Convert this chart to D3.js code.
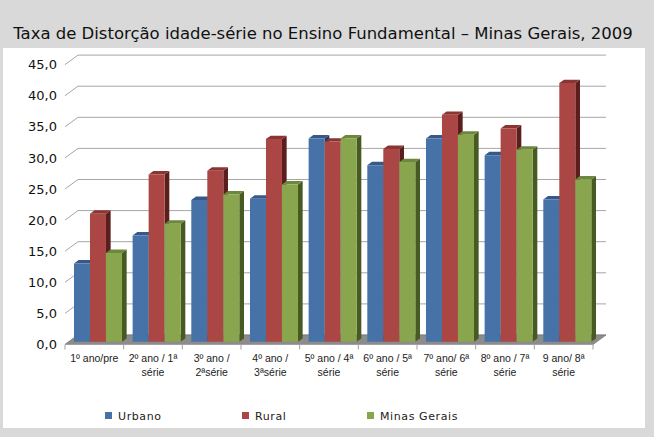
<!DOCTYPE html>
<html><head><meta charset="utf-8">
<script src="https://cdn.jsdelivr.net/npm/d3@7"></script>
<style>body{margin:0;background:#d9d9d9} svg{display:block}</style>
</head><body><svg id="c" width="654" height="437"></svg>
<script>
const title = "Taxa de Distorção idade-série no Ensino Fundamental – Minas Gerais, 2009";
const categories = [
  ["1º ano/pre"],
  ["2º ano / 1ª", "série"],
  ["3º ano /", "2ªsérie"],
  ["4º ano /", "3ªsérie"],
  ["5º ano / 4ª", "série"],
  ["6º ano / 5ª", "série"],
  ["7º ano/ 6ª", "série"],
  ["8º ano / 7ª", "série"],
  ["9 ano/ 8ª", "série"]
];
const seriesNames = ["Urbano", "Rural", "Minas Gerais"];
const urbano = [12.6, 17.1, 22.8, 23.0, 32.7, 28.4, 32.7, 30.0, 22.9];
const rural  = [20.6, 26.9, 27.5, 32.6, 32.2, 31.0, 36.5, 34.3, 41.6];
const minas  = [14.3, 19.0, 23.7, 25.3, 32.7, 28.9, 33.3, 30.9, 26.1];
const yTicks = [0, 5, 10, 15, 20, 25, 30, 35, 40, 45];

const seriesValues = [urbano, rural, minas];
const colors = {
  front: ["#4672a8", "#aa4744", "#89a54e"],
  top:   ["#37598a", "#8a3532", "#6d883c"],
  side:  ["#223c5e", "#5a1f1d", "#465a22"]
};

const svg = d3.select("#c");
// white panel
svg.append("rect").attr("x", 3).attr("y", 48).attr("width", 642).attr("height", 380).attr("fill", "#ffffff");

// title
const t = svg.append("text").attr("x", 323).attr("y", 39).attr("text-anchor", "middle")
  .attr("font-family", "DejaVu Sans, Verdana, sans-serif").attr("font-size", 16)
  .attr("fill", "#111").text(title);
const tl = t.node().getComputedTextLength();
t.attr("font-size", 16 * 620 / tl);

// geometry
const DX = 13, DY = -9.5;       // full depth offset of the floor
const F = 0.28, T = 0.36;       // bar front depth and thickness (fraction of floor depth)
const x = d3.scaleBand().domain(d3.range(categories.length)).range([65, 593]);
const xs = d3.scaleBand().domain(seriesNames).range([0, x.bandwidth()]).paddingOuter(0.333).paddingInner(0);
const y = d3.scaleLinear().domain([0, 45]).range([344.5, 344.5 - 45 * 6.22]);
const P = (px, v, d) => [px + d * DX, y(v) + d * DY];
const poly = pts => pts.map(p => p.join(",")).join(" ");

// gridlines (back wall + left wall diagonals)
const g = svg.append("g");
yTicks.forEach(v => {
  const a = P(x.range()[0], v, 0), b = P(x.range()[0], v, 1), c = P(x.range()[1], v, 1);
  g.append("polyline").attr("points", poly([a, b, c])).attr("fill", "none")
    .attr("stroke", "#a6a6a6").attr("stroke-width", 1);
});

// floor
const x0 = x.range()[0], x1 = x.range()[1];
svg.append("polygon").attr("points", poly([P(x0, 0, 0), P(x1, 0, 0), P(x1, 0, 1), P(x0, 0, 1)]))
  .attr("fill", "#8c8c8c").attr("stroke", "#7a7a7a").attr("stroke-width", 0.8);
svg.append("line").attr("x1", x0).attr("x2", x1).attr("y1", y(0)).attr("y2", y(0))
  .attr("stroke", "#a0a0a0").attr("stroke-width", 1);

// category ticks
d3.range(categories.length + 1).forEach(i => {
  const xx = i < categories.length ? x(i) : x1;
  svg.append("line").attr("x1", xx).attr("x2", xx).attr("y1", y(0)).attr("y2", y(0) + 5)
    .attr("stroke", "#a0a0a0").attr("stroke-width", 1);
});

// y axis labels
const yl = svg.append("g").attr("font-family", "DejaVu Sans, Tahoma, sans-serif").attr("font-size", 13).attr("fill", "#111");
yTicks.forEach(v => {
  yl.append("text").attr("x", 57).attr("y", y(v)).attr("dy", "0.36em").attr("text-anchor", "end")
    .text(d3.format(".1f")(v).replace(".", ","));
});

// bars
const bars = svg.append("g");
categories.forEach((c, i) => {
  seriesNames.forEach((s, k) => {
    const v = seriesValues[k][i];
    const bx0 = x(i) + xs(s), bx1 = bx0 + xs.bandwidth();
    bars.append("polygon").attr("points", poly([P(bx1, 0, F), P(bx1, 0, F + T), P(bx1, v, F + T), P(bx1, v, F)]))
      .attr("fill", colors.side[k]);
    bars.append("polygon").attr("points", poly([P(bx0, v, F), P(bx1, v, F), P(bx1, v, F + T), P(bx0, v, F + T)]))
      .attr("fill", colors.top[k]);
    bars.append("polygon").attr("points", poly([P(bx0, 0, F), P(bx1, 0, F), P(bx1, v, F), P(bx0, v, F)]))
      .attr("fill", colors.front[k]);
  });
});

// category labels
const cl = svg.append("g").attr("font-family", "Liberation Sans, Arial, sans-serif").attr("font-size", 10.5).attr("fill", "#222");
categories.forEach((lines, i) => {
  lines.forEach((ln, j) => {
    cl.append("text").attr("x", x(i) + x.bandwidth() / 2).attr("y", 362 + j * 14)
      .attr("text-anchor", "middle").text(ln);
  });
});

// legend
const legendX = [105, 242, 367];
const lg = svg.append("g").attr("font-family", "DejaVu Sans, Verdana, sans-serif").attr("font-size", 11).attr("fill", "#222");
seriesNames.forEach((s, k) => {
  lg.append("rect").attr("x", legendX[k]).attr("y", 412).attr("width", 7).attr("height", 7).attr("fill", colors.front[k]);
  lg.append("text").attr("x", legendX[k] + 13).attr("y", 420).attr("letter-spacing", 0.6).text(s);
});
</script>
</body></html>
